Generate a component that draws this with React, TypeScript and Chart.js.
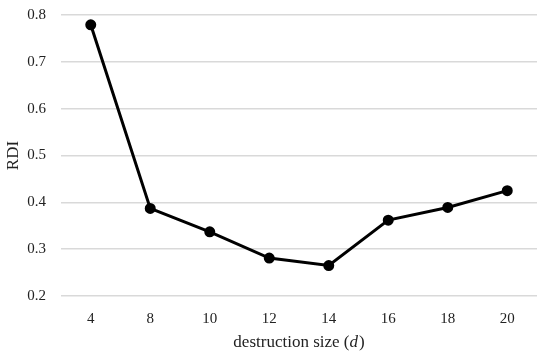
import React, { useEffect, useRef } from "react";
import { Chart, registerables } from "chart.js";

Chart.register(...registerables);

const categories = ["4", "8", "10", "12", "14", "16", "18", "20"];
const rdiValues = [0.779, 0.387, 0.337, 0.281, 0.265, 0.362, 0.389, 0.425];
const yTicks = [0.2, 0.3, 0.4, 0.5, 0.6, 0.7, 0.8];
const yTitle = "RDI";
const xTitleMain = "destruction size (";
const xTitleItalic = "d";
const xTitleEnd = ")";

const FONT = "'Liberation Serif', 'Times New Roman', serif";

const xTitlePlugin = {
  id: "xTitleMixed",
  afterDraw(chart: any) {
    const ctx = chart.ctx;
    const area = chart.chartArea;
    ctx.save();
    ctx.fillStyle = "#222";
    ctx.textBaseline = "middle";
    ctx.textAlign = "left";
    const normal = `17px ${FONT}`;
    const italic = `italic 17px ${FONT}`;
    ctx.font = normal;
    const w1 = ctx.measureText(xTitleMain).width;
    const w3 = ctx.measureText(xTitleEnd).width;
    ctx.font = italic;
    const w2 = ctx.measureText(xTitleItalic).width;
    const total = w1 + w2 + w3 + 1;
    const cx = (area.left + area.right) / 2;
    let x = cx - total / 2;
    const y = 343;
    ctx.font = normal;
    ctx.fillText(xTitleMain, x, y);
    x += w1;
    ctx.font = italic;
    ctx.fillText(xTitleItalic, x, y);
    x += w2 + 1;
    ctx.font = normal;
    ctx.fillText(xTitleEnd, x, y);
    ctx.restore();
  },
};

export default function App() {
  const ref = useRef<HTMLCanvasElement>(null);
  useEffect(() => {
    document.body.style.margin = "0";
    const chart = new Chart(ref.current!, {
      type: "line",
      data: {
        labels: categories,
        datasets: [
          {
            data: rdiValues,
            borderColor: "#000",
            backgroundColor: "#000",
            borderWidth: 3,
            pointRadius: 4,
            pointBackgroundColor: "#000",
            pointBorderColor: "#000",
            tension: 0,
          },
        ],
      },
      options: {
        animation: false,
        responsive: false,
        maintainAspectRatio: false,
        layout: { autoPadding: false, padding: { top: 15, right: 13, left: 0, bottom: 0 } },
        plugins: { legend: { display: false }, tooltip: { enabled: false } },
        scales: {
          x: {
            offset: true,
            grid: { display: false, drawTicks: false },
            border: { display: false },
            ticks: { color: "#222", font: { family: FONT, size: 15 }, padding: 14 },
            afterFit(s: any) {
              s.height = 61;
            },
          },
          y: {
            min: 0.2,
            max: 0.8,
            afterBuildTicks(s: any) {
              s.ticks = yTicks.map((v) => ({ value: v }));
            },
            grid: { color: "#d9d9d9", lineWidth: 1.5, drawTicks: false },
            border: { display: false },
            ticks: {
              color: "#222",
              font: { family: FONT, size: 15 },
              padding: 15,
              callback: (v: any) => Number(v).toFixed(1),
            },
            title: {
              display: true,
              text: yTitle,
              color: "#222",
              font: { family: FONT, size: 17 },
              padding: { top: 3, bottom: 0 },
            },
            afterFit(s: any) {
              s.width = 61;
              s.paddingTop = 0;
              s.paddingBottom = 0;
            },
          },
        },
      },
      plugins: [xTitlePlugin],
    });
    return () => chart.destroy();
  }, []);
  return <canvas ref={ref} width={550} height={357} style={{ display: "block" }} />;
}
